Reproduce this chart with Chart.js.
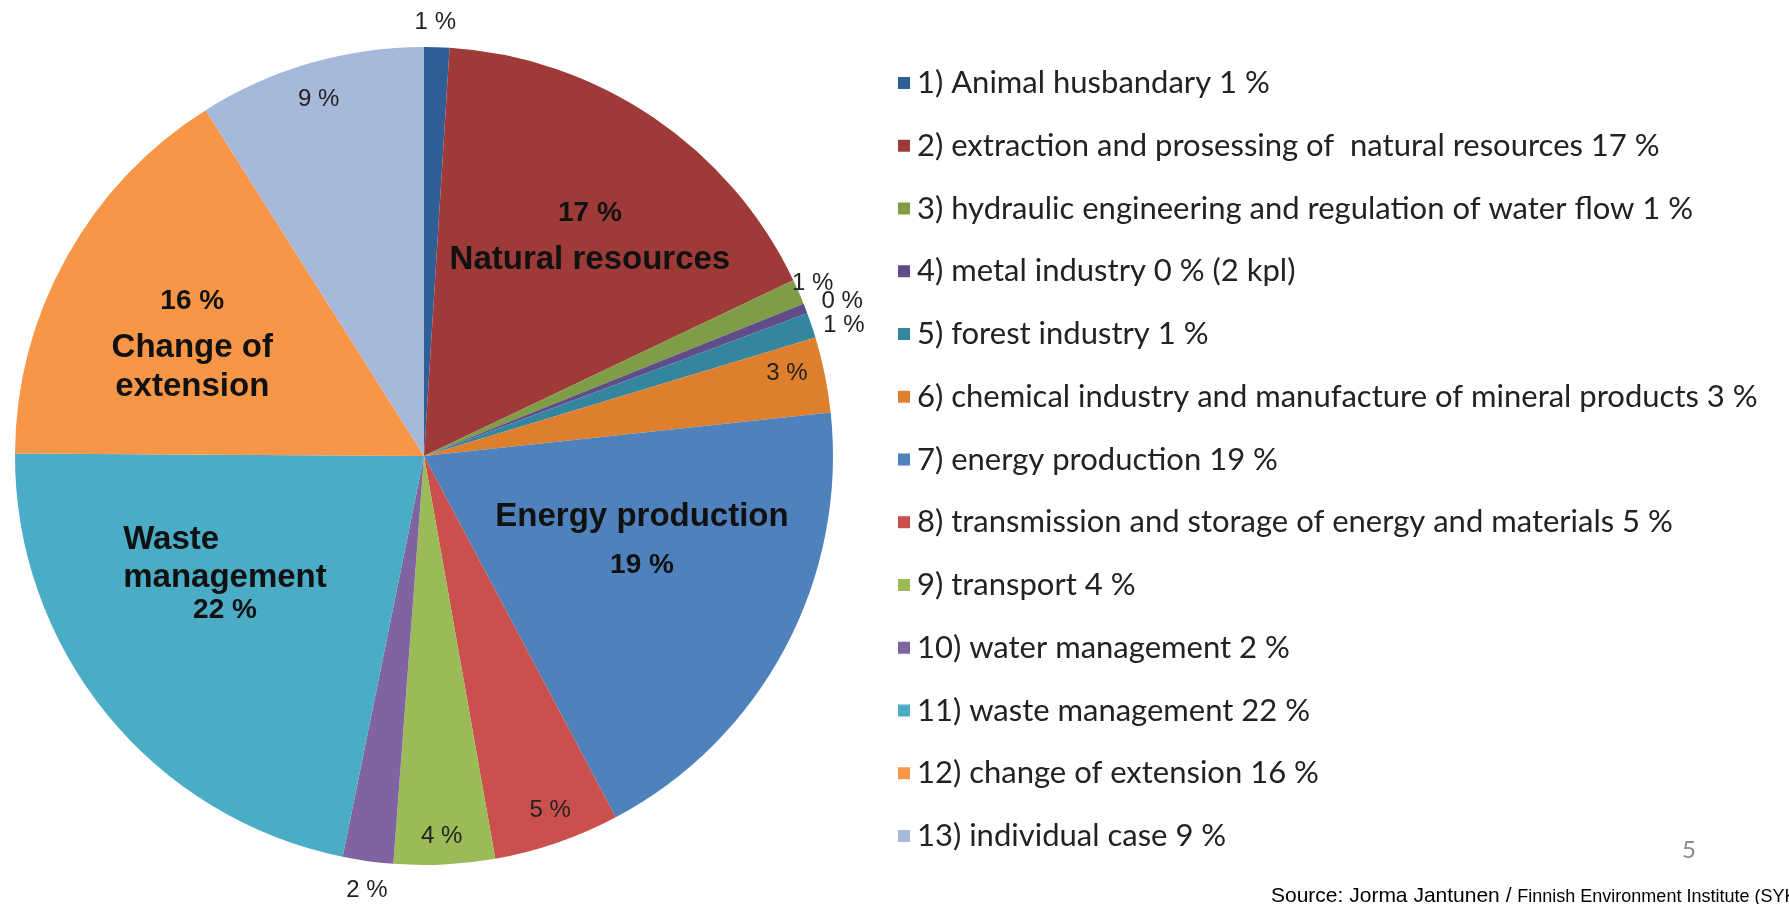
<!DOCTYPE html>
<html>
<head>
<meta charset="utf-8">
<script src="https://cdn.jsdelivr.net/npm/chart.js@4"></script>
<style>
  html, body { margin: 0; padding: 0; background: #fff; overflow: hidden; }
  #wrap { position: relative; width: 1789px; height: 904px; }
  #source { position: absolute; left: 1271px; top: 884px; white-space: nowrap;
    font-family: "Liberation Sans", Arial, sans-serif; font-size: 21px; line-height: 21px; color: #000; }
  #source span { font-size: 18px; }
  #page { position: absolute; left: 1682px; top: 834px; font-family: Lato, sans-serif;
    font-size: 24px; color: #8a8a8a; }
</style>
</head>
<body>
<div id="wrap">
  <canvas id="myChart"></canvas>
  <div id="page">5</div>
  <div id="source">Source: Jorma Jantunen / <span>Finnish Environment Institute (SYKE)</span></div>
</div>
<script>
// data
const categories = [
  '1) Animal husbandary 1 %',
  '2) extraction and prosessing of  natural resources 17 %',
  '3) hydraulic engineering and regulation of water flow 1 %',
  '4) metal industry 0 % (2 kpl)',
  '5) forest industry 1 %',
  '6) chemical industry and manufacture of mineral products 3 %',
  '7) energy production 19 %',
  '8) transmission and storage of energy and materials 5 %',
  '9) transport 4 %',
  '10) water management 2 %',
  '11) waste management 22 %',
  '12) change of extension 16 %',
  '13) individual case 9 %'
]
const shares = [1, 17, 1, 0.4, 1, 3, 19, 5, 4, 2, 22, 16, 9]
const sliceNames = [null, 'Natural resources', null, null, null, null, 'Energy production',
  null, null, null, 'Waste|management', 'Change of|extension', null]

const COLORS = [
  '#2F5E97', '#9E3B38', '#7F9C47', '#604C88', '#34869E', '#DE7F2E',
  '#4F81BD', '#C9504C', '#9BBB59', '#8064A2', '#4BACC6', '#F79646', '#A7B9DA'
]

// where each slice label sits: [fraction of radius, angle shift in degrees]
const labelPlace = [
  [1.06, -0.3], [0.673, 3.0], [1.04, -0.3], [1.09, 0.85], [1.075, 1.4], [0.91, -1.3],
  [0.572, -6.7], [0.92, -0.6], [0.93, 0.2], [1.07, -0.4], [0.567, 8.2], [0.629, -3.3], [0.91, -0.3]
]
// multi line labels: order of lines and gaps between them
const blocks = {
  1: { pctFirst: true, gaps: [47] },
  6: { pctFirst: false, gaps: [48] },
  10: { pctFirst: false, gaps: [38, 32], leftNames: true },
  11: { pctFirst: true, gaps: [46, 39] }
}

const pctText = v => Math.round(v) + ' %'

const sliceLabels = {
  id: 'sliceLabels',
  afterDatasetsDraw(chart) {
    const ctx = chart.ctx
    const meta = chart.getDatasetMeta(0)
    ctx.save()
    ctx.textBaseline = 'middle'
    meta.data.forEach((arc, i) => {
      const p = labelPlace[i]
      const mid = (arc.startAngle + arc.endAngle) / 2 + p[1] * Math.PI / 180
      const r = arc.outerRadius * p[0]
      const x = arc.x + Math.cos(mid) * r
      const y = arc.y + Math.sin(mid) * r
      const value = chart.data.datasets[0].data[i]
      if (!sliceNames[i]) {
        ctx.font = '24px "Liberation Sans", Arial, sans-serif'
        ctx.fillStyle = '#222'
        ctx.textAlign = 'center'
        ctx.fillText(pctText(value), x, y)
        return
      }
      const b = blocks[i]
      const names = sliceNames[i].split('|').map(t => ({ t, name: true }))
      const pct = { t: pctText(value), name: false }
      const lines = b.pctFirst ? [pct, ...names] : [...names, pct]
      const total = b.gaps.reduce((a, g) => a + g, 0)
      let ly = y - total / 2
      ctx.font = 'bold 33px "Liberation Sans", Arial, sans-serif'
      const nameW = Math.max(...names.map(n => ctx.measureText(n.t).width))
      ctx.fillStyle = '#111'
      lines.forEach((ln, k) => {
        ctx.font = ln.name ? 'bold 33px "Liberation Sans", Arial, sans-serif'
                           : 'bold 28px "Liberation Sans", Arial, sans-serif'
        if (ln.name && b.leftNames) {
          ctx.textAlign = 'left'
          ctx.fillText(ln.t, x - nameW / 2, ly)
        } else {
          ctx.textAlign = 'center'
          ctx.fillText(ln.t, x, ly)
        }
        ly += b.gaps[k] || 0
      })
    })
    ctx.restore()
  }
}

const sideLegend = {
  id: 'sideLegend',
  afterDraw(chart, args, opts) {
    const ctx = chart.ctx
    const ds = chart.data.datasets[0]
    ctx.save()
    ctx.font = opts.font
    ctx.textBaseline = 'middle'
    ctx.textAlign = 'left'
    chart.data.labels.forEach((label, i) => {
      const y = opts.top + i * opts.step
      ctx.fillStyle = ds.backgroundColor[i]
      ctx.fillRect(opts.left, y - opts.box / 2, opts.box, opts.box)
      ctx.fillStyle = opts.color
      ctx.fillText(label, opts.left + opts.box + opts.gap, y)
    })
    ctx.restore()
  }
}

const config = {
  type: 'pie',
  data: {
    labels: categories,
    datasets: [{
      data: shares,
      backgroundColor: COLORS,
      borderWidth: 0
    }]
  },
  options: {
    responsive: true,
    maintainAspectRatio: false,
    animation: false,
    layout: { padding: { left: 15, top: 47, bottom: 39, right: 956 } },
    plugins: {
      legend: { display: false },
      tooltip: { enabled: false },
      sideLegend: {
        left: 898, top: 83, step: 62.75, box: 12, gap: 7,
        font: '31px Lato, sans-serif', color: '#222'
      }
    }
  },
  plugins: [sliceLabels, sideLegend]
}

const myChart = new Chart(document.getElementById('myChart'), config)
</script>
</body>
</html>
